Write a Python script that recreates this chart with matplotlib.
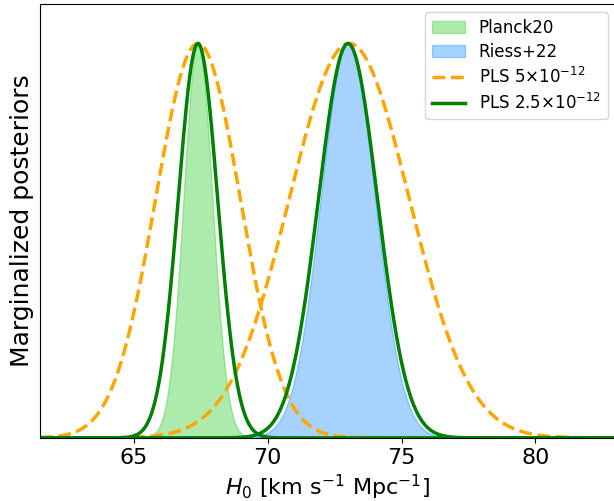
import numpy as np
import matplotlib
matplotlib.use('Agg')
import matplotlib.pyplot as plt

plt.rcParams.update({'font.size': 16})

# posterior peaks and widths (H0 in km/s/Mpc)
planck_mean, planck_sigma = 67.4, 0.54
riess_mean, riess_sigma = 73.0, 1.02
pls5_means = [67.4, 73.05]
pls5_sigmas = [1.58, 2.24]
pls25_means = [67.4, 73.0]
pls25_sigmas = [0.735, 1.10]

xmin, xmax = 61.5, 83.0
xticks = [65, 70, 75, 80]


def gauss(x, mu, sig):
    return np.exp(-0.5 * ((x - mu) / sig) ** 2)


x = np.linspace(xmin, xmax, 2000)

fig = plt.figure(figsize=(6.14, 5.01), dpi=100)
ax = fig.add_axes([0.065, 0.126, 0.938, 0.866])

ax.fill_between(x, gauss(x, planck_mean, planck_sigma), color='limegreen', alpha=0.4, label='Planck20')
ax.fill_between(x, gauss(x, riess_mean, riess_sigma), color='dodgerblue', alpha=0.4, label='Riess+22')

for i in range(2):
    ax.plot(x, gauss(x, pls5_means[i], pls5_sigmas[i]), color='orange', ls='--', lw=2.5,
            label=r'PLS 5$\times10^{-12}$' if i == 0 else None)
for i in range(2):
    ax.plot(x, gauss(x, pls25_means[i], pls25_sigmas[i]), color='green', lw=2.5,
            label=r'PLS 2.5$\times10^{-12}$' if i == 0 else None)

ax.set_xlim(xmin, xmax)
ax.set_ylim(0, 1.1)
ax.set_xticks(xticks)
ax.set_yticks([])
ax.set_xlabel(r'$H_0$ [km s$^{-1}$ Mpc$^{-1}$]', fontsize=16)
ax.set_ylabel('Marginalized posteriors', fontsize=18)
ax.legend(loc='upper right', fontsize=12, labelspacing=0.35)

fig.savefig('out.png', dpi=100)
